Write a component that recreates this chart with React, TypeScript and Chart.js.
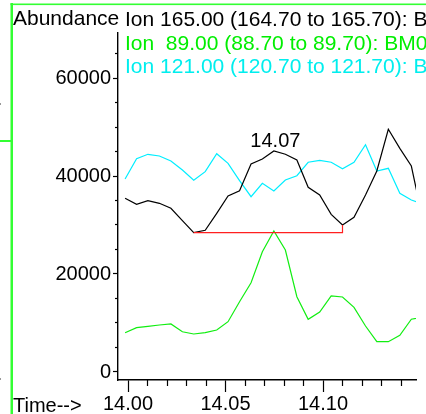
import React, { useEffect, useRef } from 'react';
import { Chart, registerables } from 'chart.js';

Chart.register(...registerables);

// ---- data ----
const times = [
  13.9985, 14.0044, 14.0102, 14.0161, 14.022, 14.0279, 14.0337, 14.0396, 14.0455,
  14.0513, 14.0572, 14.0631, 14.0689, 14.0748, 14.0807, 14.0866, 14.0924, 14.0983,
  14.1042, 14.11, 14.1159, 14.1218, 14.1276, 14.1335, 14.1394, 14.1453, 14.1511,
];
const ion165 = [
  35450, 34220, 34960, 34430, 33410, 30880, 28430, 28920, 32390, 35920, 37000, 42450,
  43470, 45100, 44430, 43270, 37690, 36120, 32180, 30000, 31570, 36120, 41020, 49530,
  45650, 42040, 31220,
];
const ion89 = [
  8020, 9040, 9330, 9590, 9800, 8220, 7760, 8020, 8570, 10270, 14350, 18220, 24550,
  28780, 24900, 15370, 10760, 12240, 15510, 15310, 13200, 9390, 6180, 6180, 7490, 10760,
  11220,
];
const ion121 = [
  39390, 43530, 44430, 44080, 43060, 41220, 39120, 40880, 44550, 42590, 39040, 35780,
  38510, 36940, 39180, 40060, 42800, 43200, 42800, 41490, 42800, 46390, 41020, 41570,
  36470, 35100, 34290,
];
const baselineStartIndex = 6;
const baselineEndIndex = 19;
const baselineLevel = 28430;
const peakIndex = 13;
const peakLabel = '14.07';

const xMajorTicks = [14.0, 14.05, 14.1];
const xMinorTicks = [14.01, 14.02, 14.03, 14.04, 14.06, 14.07, 14.08, 14.09, 14.11, 14.12, 14.13, 14.14];
const yMajorTicks = [0, 20000, 40000, 60000];
const yMinorTicks = [5000, 10000, 15000, 25000, 30000, 35000, 45000, 50000, 55000, 65000];

const xMin = 13.99487;
const xMax = 14.14769;
const yMin = -1633;
const yMax = 69184;

const headerLines = [
  { text: 'Ion 165.00 (164.70 to 165.70): BM01.D\\data.ms', color: '#000000' },
  { text: 'Ion  89.00 (88.70 to 89.70): BM01.D\\data.ms', color: '#00ee00' },
  { text: 'Ion 121.00 (120.70 to 121.70): BM01.D\\data.ms', color: '#00eeee' },
];
const yTitle = 'Abundance';
const xTitle = 'Time-->';

const FONT = '"Liberation Sans", Arial, Helvetica, sans-serif';

const textPlugin = {
  id: 'extraText',
  afterDraw(chart: any) {
    const ctx = chart.ctx as CanvasRenderingContext2D;
    ctx.save();
    // green frame
    ctx.fillStyle = '#33ff33';
    ctx.fillRect(10.5, 3, 2.5, 411);
    ctx.fillRect(10.5, 3.5, 416, 1.6);
    ctx.fillRect(0, 140, 11, 2);
    ctx.fillStyle = '#999999';
    ctx.fillRect(0, 103, 1, 2);
    ctx.fillRect(0, 378, 1, 2);

    ctx.textBaseline = 'alphabetic';
    ctx.textAlign = 'left';
    ctx.font = `21px ${FONT}`;
    ctx.fillStyle = '#000';
    ctx.fillText(yTitle, 13, 25);
    const baselines = [26, 49.5, 73];
    headerLines.forEach((l, i) => {
      ctx.fillStyle = l.color;
      ctx.fillText(l.text, 125, baselines[i]);
    });
    ctx.font = `20px ${FONT}`;
    ctx.fillStyle = '#000';
    ctx.fillText(xTitle, 13, 411.5);

    const xs = chart.scales.x;
    const ys = chart.scales.y;
    const px = xs.getPixelForValue(times[peakIndex]);
    const py = ys.getPixelForValue(ion165[peakIndex]);
    ctx.textAlign = 'center';
    ctx.fillText(peakLabel, px + 1.5, py - 4.5);
    ctx.restore();
  },
};

function toPoints(vals: number[]) {
  return vals.map((v, i) => ({ x: times[i], y: v }));
}

export default function App() {
  const ref = useRef<HTMLCanvasElement | null>(null);
  useEffect(() => {
    if (!ref.current) return;
    const baseline = [
      { x: times[baselineStartIndex], y: baselineLevel },
      { x: times[baselineEndIndex], y: baselineLevel },
      { x: times[baselineEndIndex], y: ion165[baselineEndIndex] },
    ];
    const lineDs = (label: string, data: any[], color: string) => ({
      label,
      data,
      borderColor: color,
      backgroundColor: color,
      borderWidth: 1.2,
      pointRadius: 0,
      tension: 0,
      fill: false,
      xAxisID: 'x',
      yAxisID: 'y',
    });
    const chart = new Chart(ref.current, {
      type: 'line',
      data: {
        datasets: [
          lineDs('baseline', baseline, '#ff2020'),
          lineDs('Ion 89', toPoints(ion89), '#11ee11'),
          lineDs('Ion 165', toPoints(ion165), '#000000'),
          lineDs('Ion 121', toPoints(ion121), '#00eeff'),
        ],
      },
      options: {
        animation: false,
        responsive: false,
        maintainAspectRatio: false,
        layout: { padding: { top: 33, right: 10, left: 0, bottom: 0 } },
        plugins: { legend: { display: false }, tooltip: { enabled: false } },
        scales: {
          x: {
            type: 'linear',
            position: 'bottom',
            min: xMin,
            max: xMax,
            weight: 1,
            afterFit: (s: any) => {
              s.height = 34;
            },
            afterBuildTicks: (s: any) => {
              s.ticks = xMajorTicks.map((v) => ({ value: v }));
            },
            ticks: {
              autoSkip: false,
              maxRotation: 0,
              padding: 0,
              color: '#000',
              font: { family: FONT, size: 20 },
              callback: (v: any) => Number(v).toFixed(2),
            },
            grid: { drawOnChartArea: false, tickLength: 12, color: '#000', tickWidth: 1.2 },
            border: { color: '#000', width: 1.4 },
          },
          xMinor: {
            type: 'linear',
            position: 'bottom',
            min: xMin,
            max: xMax,
            weight: 0,
            afterFit: (s: any) => {
              s.height = 0;
            },
            afterBuildTicks: (s: any) => {
              s.ticks = xMinorTicks.map((v) => ({ value: v }));
            },
            ticks: { display: false, autoSkip: false },
            grid: { drawOnChartArea: false, tickLength: 6, color: '#000', tickWidth: 1.2 },
            border: { display: false },
          },
          y: {
            type: 'linear',
            position: 'left',
            min: yMin,
            max: yMax,
            weight: 1,
            afterFit: (s: any) => {
              s.width = 118;
            },
            afterBuildTicks: (s: any) => {
              s.ticks = yMajorTicks.map((v) => ({ value: v }));
            },
            ticks: {
              autoSkip: false,
              padding: 2,
              color: '#000',
              font: { family: FONT, size: 20 },
              callback: (v: any) => String(v),
            },
            grid: { drawOnChartArea: false, tickLength: 5, color: '#000', tickWidth: 1.2 },
            border: { color: '#000', width: 1.4 },
          },
          yMinor: {
            type: 'linear',
            position: 'left',
            min: yMin,
            max: yMax,
            weight: 0,
            afterFit: (s: any) => {
              s.width = 0;
            },
            afterBuildTicks: (s: any) => {
              s.ticks = yMinorTicks.map((v) => ({ value: v }));
            },
            ticks: { display: false, autoSkip: false },
            grid: { drawOnChartArea: false, tickLength: 3, color: '#000', tickWidth: 1.2 },
            border: { display: false },
          },
        },
      } as any,
      plugins: [textPlugin],
    });
    return () => chart.destroy();
  }, []);
  return (
    <div style={{ position: 'absolute', left: 0, top: 0, width: 426, height: 414, background: '#fff' }}>
      <canvas ref={ref} width={426} height={414} style={{ display: 'block', width: 426, height: 414 }} />
    </div>
  );
}
